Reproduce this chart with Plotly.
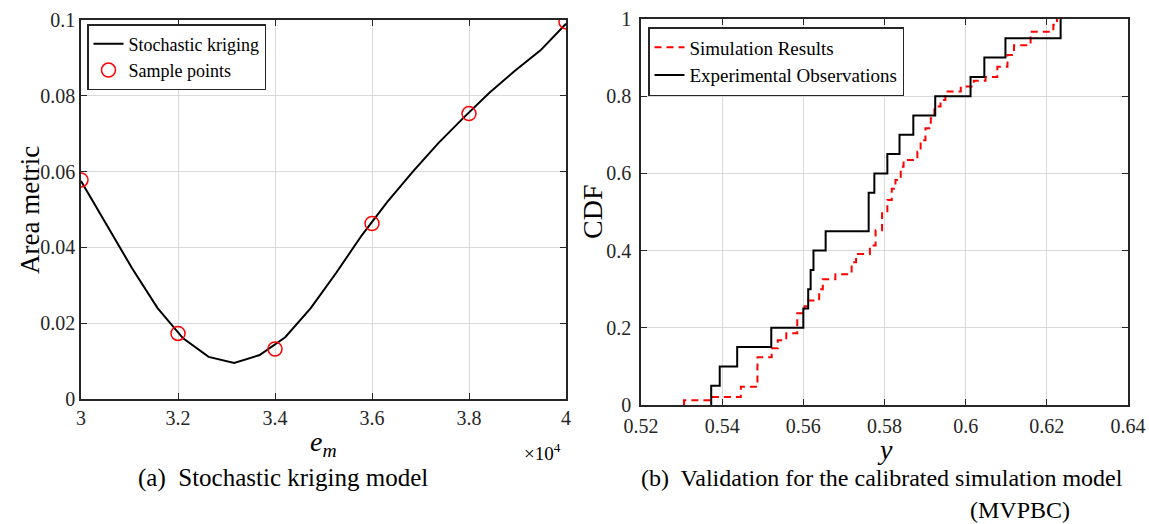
import plotly.graph_objects as go

# ---------------- data: (a) stochastic kriging ----------------
em_grid = [3.0000, 3.0526, 3.1053, 3.1579, 3.2105, 3.2632, 3.3158, 3.3684, 3.4211, 3.4737,
           3.5263, 3.5789, 3.6316, 3.6842, 3.7368, 3.7895, 3.8421, 3.8947, 3.9474, 4.0000]
area_kriging = [0.0575, 0.0460, 0.0345, 0.0240, 0.0160, 0.0111, 0.0095, 0.0116, 0.0163, 0.0240,
                0.0333, 0.0432, 0.0520, 0.0600, 0.0675, 0.0743, 0.0808, 0.0866, 0.0920, 0.0990]
em_samples = [3.0, 3.2, 3.4, 3.6, 3.8, 4.0]
area_samples = [0.0578, 0.0173, 0.0132, 0.0463, 0.0753, 0.0995]

# ---------------- data: (b) validation CDFs ----------------
obs_values = [0.5373, 0.5394, 0.5437, 0.5521, 0.5600, 0.5612, 0.5618, 0.5625, 0.5655, 0.5761,
              0.5761, 0.5775, 0.5807, 0.5837, 0.5871, 0.5925, 0.6012, 0.6046, 0.6098, 0.6234]
obs_cdf = [0.05, 0.10, 0.15, 0.20, 0.25, 0.30, 0.35, 0.40, 0.45, 0.50,
           0.55, 0.60, 0.65, 0.70, 0.75, 0.80, 0.85, 0.90, 0.95, 1.00]
sim_values = [0.5306, 0.5372, 0.5446, 0.5487, 0.5522, 0.5537, 0.5558, 0.5585, 0.5603, 0.5612,
              0.5639, 0.5648, 0.5679, 0.5719, 0.5730, 0.5764, 0.5778, 0.5794, 0.5807, 0.5818,
              0.5827, 0.5840, 0.5847, 0.5881, 0.5889, 0.5901, 0.5914, 0.5923, 0.5938, 0.5950,
              0.5988, 0.6020, 0.6049, 0.6078, 0.6103, 0.6119, 0.6160, 0.6216, 0.6225]
sim_cdf = [0.012, 0.021, 0.047, 0.124, 0.147, 0.168, 0.186, 0.238, 0.256, 0.271,
           0.300, 0.326, 0.339, 0.370, 0.391, 0.413, 0.453, 0.497, 0.531, 0.560,
           0.583, 0.617, 0.635, 0.656, 0.686, 0.717, 0.743, 0.773, 0.790, 0.812,
           0.825, 0.840, 0.850, 0.876, 0.907, 0.932, 0.967, 0.985, 1.000]

left_xticks = [3.0, 3.2, 3.4, 3.6, 3.8, 4.0]
left_xticklabels = ["3", "3.2", "3.4", "3.6", "3.8", "4"]
left_yticks = [0, 0.02, 0.04, 0.06, 0.08, 0.1]
left_yticklabels = ["0", "0.02", "0.04", "0.06", "0.08", "0.1"]
right_xticks = [0.52, 0.54, 0.56, 0.58, 0.60, 0.62, 0.64]
right_xticklabels = ["0.52", "0.54", "0.56", "0.58", "0.6", "0.62", "0.64"]
right_yticks = [0, 0.2, 0.4, 0.6, 0.8, 1.0]
right_yticklabels = ["0", "0.2", "0.4", "0.6", "0.8", "1"]

FONT = "Liberation Serif, Times New Roman, serif"
W, H = 1149, 524

fig = go.Figure()

fig.add_trace(go.Scatter(x=em_grid, y=area_kriging, mode="lines", name="Stochastic kriging",
                         line=dict(color="black", width=2), xaxis="x", yaxis="y", legend="legend"))
fig.add_trace(go.Scatter(x=em_samples, y=area_samples, mode="markers", name="Sample points",
                         marker=dict(symbol="circle-open", size=14, color="#ff0000",
                                     line=dict(width=1.5, color="#ff0000")),
                         xaxis="x", yaxis="y", legend="legend"))

fig.add_trace(go.Scatter(x=[sim_values[0]] + sim_values, y=[0] + sim_cdf, mode="lines",
                         name="Simulation Results", line_shape="hv",
                         line=dict(color="#ff0000", width=2, dash="7px,5px"),
                         xaxis="x2", yaxis="y2", legend="legend2"))
fig.add_trace(go.Scatter(x=[obs_values[0]] + obs_values, y=[0] + obs_cdf, mode="lines",
                         name="Experimental Observations", line_shape="hv",
                         line=dict(color="black", width=2),
                         xaxis="x2", yaxis="y2", legend="legend2"))

axis_common = dict(showline=True, linecolor="#262626", linewidth=1.5, mirror="ticks",
                   ticks="inside", ticklen=6, tickcolor="#262626", showgrid=True,
                   gridcolor="#d9d9d9", gridwidth=1, zeroline=False, automargin=False,
                   tickfont=dict(family=FONT, size=20, color="#262626"), tickmode="array")

def px_x(p):
    return p / W

def px_y(p):
    return 1 - p / H

fig.update_layout(
    width=W, height=H, margin=dict(l=0, r=0, t=0, b=0),
    paper_bgcolor="white", plot_bgcolor="white",
    font=dict(family=FONT, color="black"),
    xaxis=dict(domain=[px_x(81), px_x(566)], range=[3.0, 4.0], anchor="y",
               tickvals=left_xticks, ticktext=left_xticklabels, **axis_common),
    yaxis=dict(domain=[px_y(399), px_y(20)], range=[0, 0.1], anchor="x",
               tickvals=left_yticks, ticktext=left_yticklabels, **axis_common),
    xaxis2=dict(domain=[px_x(641), px_x(1128)], range=[0.52, 0.64], anchor="y2",
                tickvals=right_xticks, ticktext=right_xticklabels, ticklabelstandoff=2,
                **axis_common),
    yaxis2=dict(domain=[px_y(405), px_y(19)], range=[0, 1], anchor="x2",
                tickvals=right_yticks, ticktext=right_yticklabels, ticklabelstandoff=4,
                **axis_common),
    legend=dict(x=px_x(87), y=px_y(24), xanchor="left", yanchor="top",
                bgcolor="white", bordercolor="#262626", borderwidth=1.5,
                font=dict(family=FONT, size=18, color="black"),
                tracegroupgap=0, itemwidth=30),
    legend2=dict(x=px_x(648), y=px_y(27), xanchor="left", yanchor="top",
                 bgcolor="white", bordercolor="#262626", borderwidth=1.5,
                 font=dict(family=FONT, size=19, color="black"),
                 tracegroupgap=0, itemwidth=30),
    showlegend=True,
)

annots = [
    dict(text="Area metric", x=px_x(30), y=px_y(210), textangle=-90, size=27),
    dict(text="<i>e</i><sub><i>m</i></sub>", x=px_x(323), y=px_y(443), size=28),
    dict(text="×10<sup>4</sup>", x=px_x(542), y=px_y(452), size=19),
    dict(text="CDF", x=px_x(592), y=px_y(212), textangle=-90, size=28),
    dict(text="<i>y</i>", x=px_x(885), y=px_y(449), size=28),
    dict(text="(a)  Stochastic kriging model", x=px_x(283), y=px_y(478), size=25),
    dict(text="(b)  Validation for the calibrated simulation model", x=px_x(882), y=px_y(478), size=24),
    dict(text="(MVPBC)", x=px_x(1020), y=px_y(510), size=24),
]
for a in annots:
    fig.add_annotation(text=a["text"], x=a["x"], y=a["y"], xref="paper", yref="paper",
                       xanchor="center", yanchor="middle", showarrow=False,
                       textangle=a.get("textangle", 0),
                       font=dict(family=FONT, size=a["size"], color="black"))

fig.write_html("out.html")
